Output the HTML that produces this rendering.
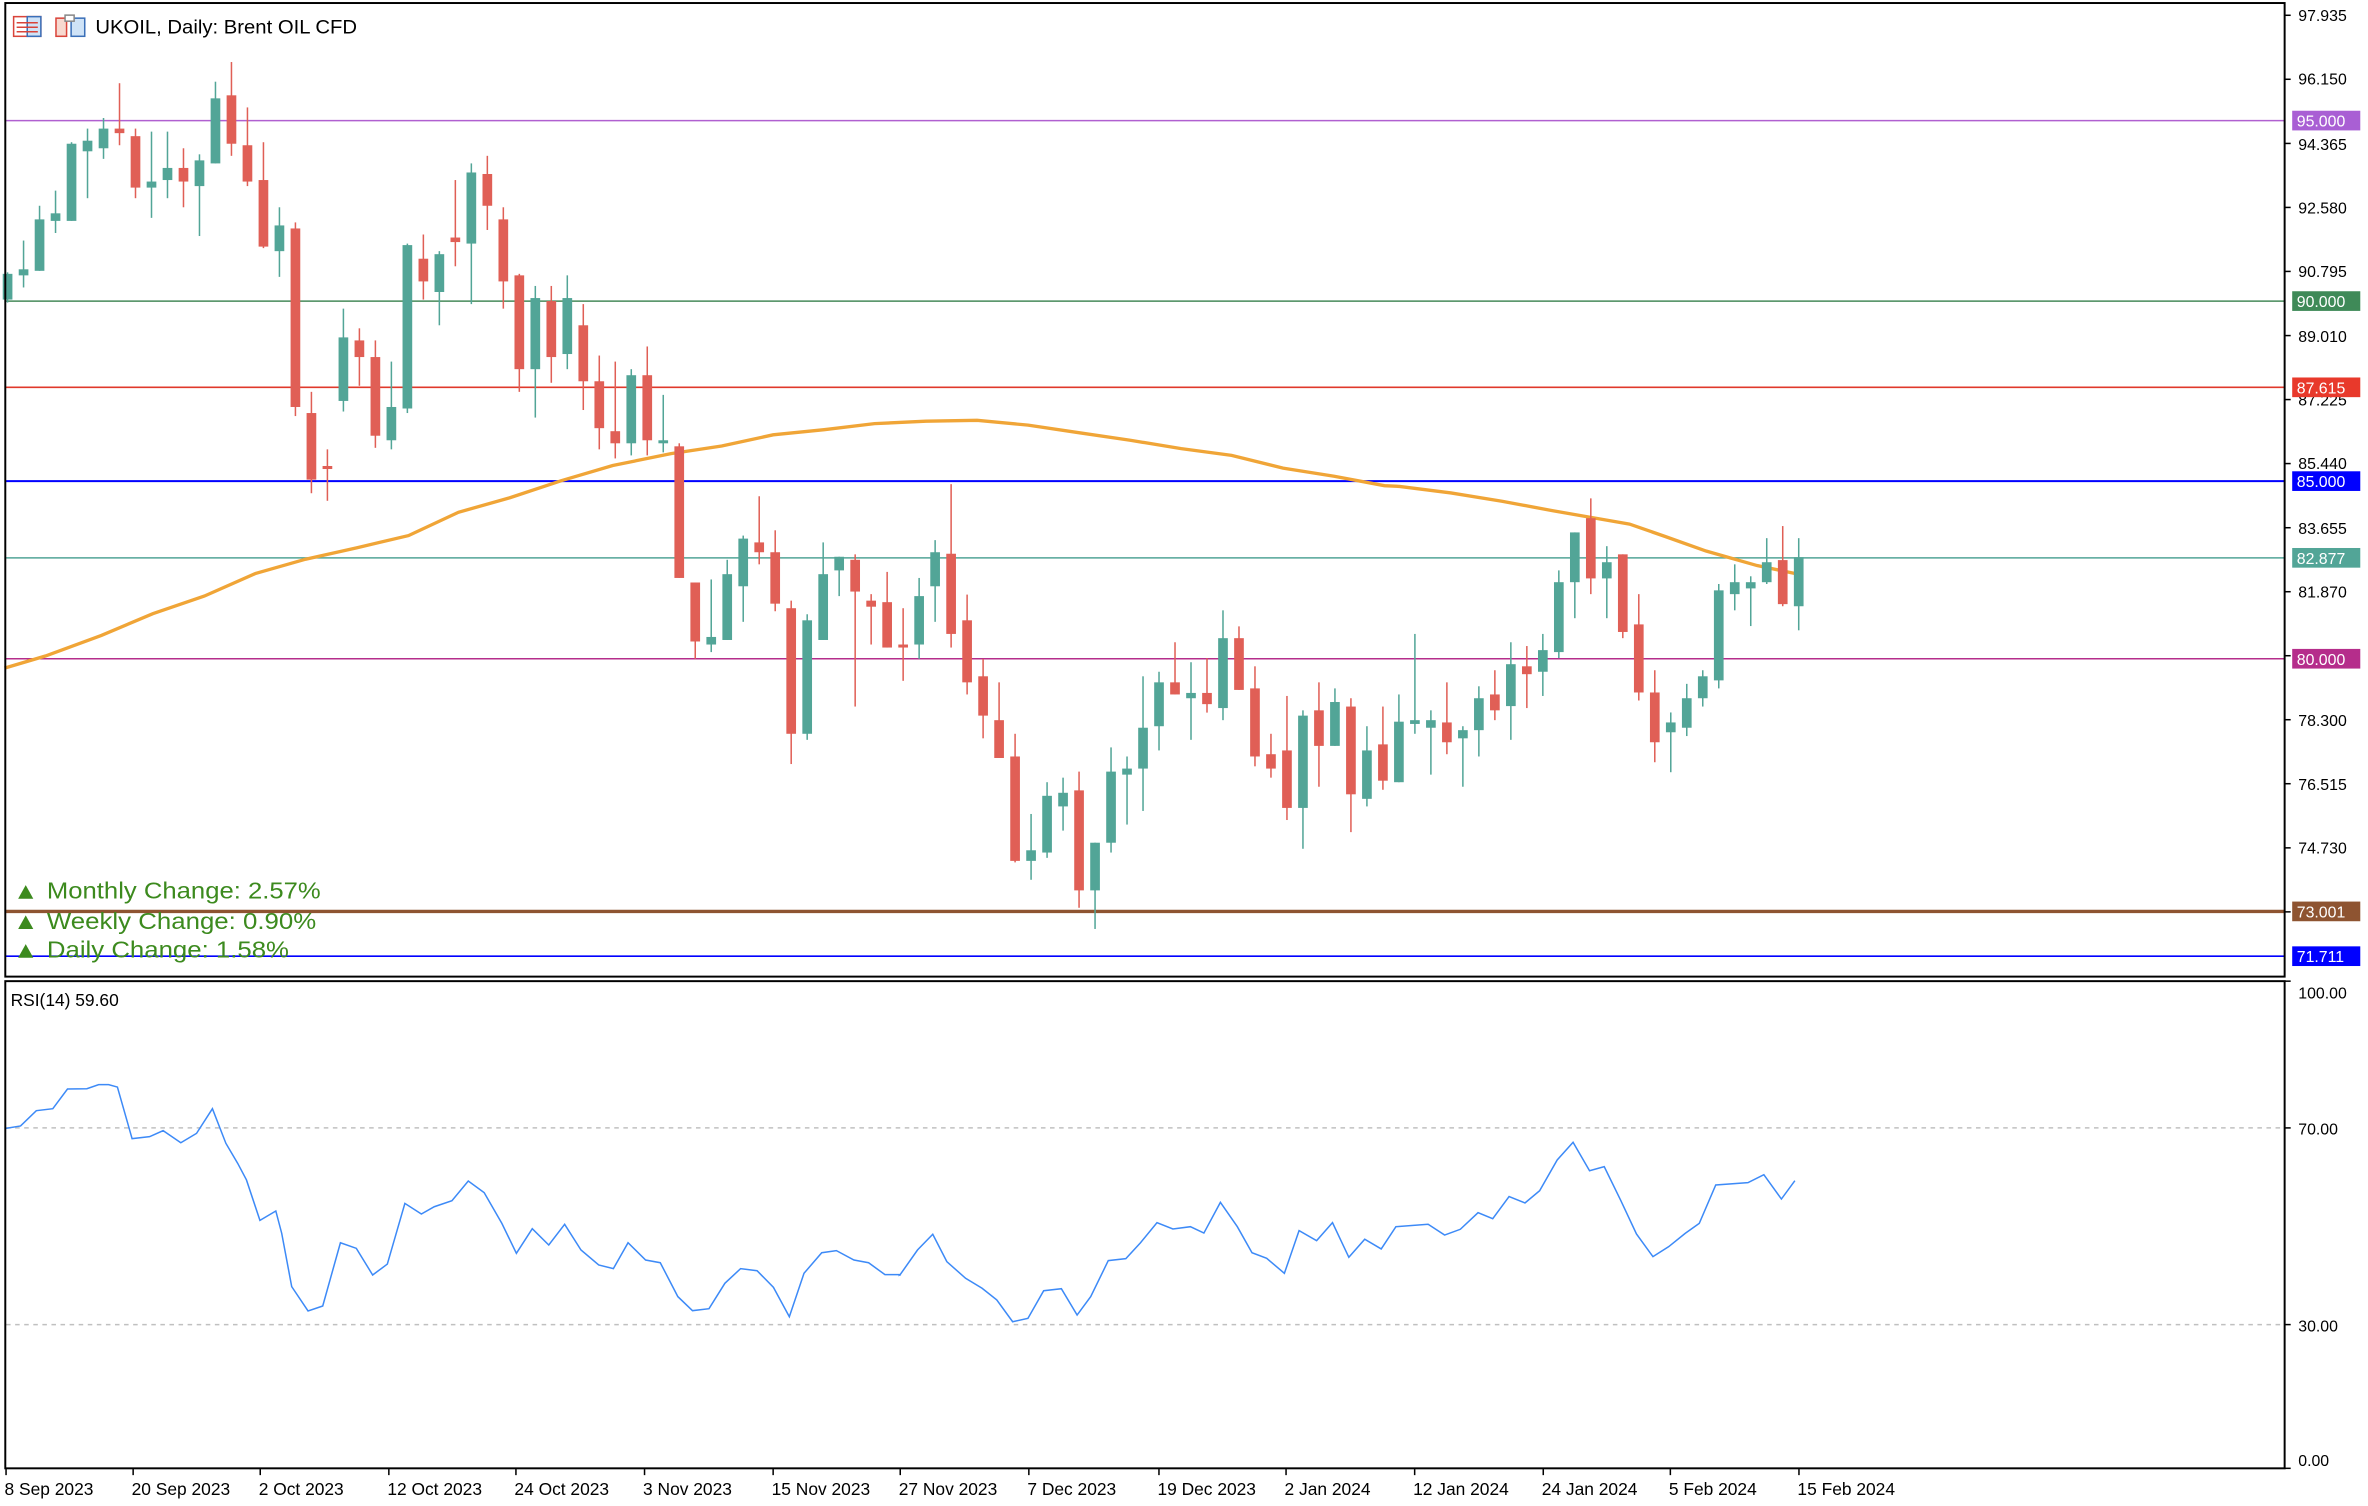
<!DOCTYPE html>
<html><head><meta charset="utf-8"><style>
html,body{margin:0;padding:0;background:#fff;}
svg{display:block;}
text{font-family:"Liberation Sans","DejaVu Sans",sans-serif;}
</style></head><body>
<svg id="s" width="2368" height="1506" viewBox="0 0 1565.1 995.4" preserveAspectRatio="none" xmlns="http://www.w3.org/2000/svg">
<rect x="0" y="0" width="1565.1" height="995.4" fill="#fff"/>
<g id="hl"></g>
<polyline id="ma" fill="none" stroke="#f0a537" stroke-width="2.2"/>
<g id="cd"></g>
<line x1="4" y1="745.5" x2="1509" y2="745.5" stroke="#c0c0c0" stroke-width="1" stroke-dasharray="3,3"/>
<line x1="4" y1="875.5" x2="1509" y2="875.5" stroke="#c0c0c0" stroke-width="1" stroke-dasharray="3,3"/>
<polyline id="rsi" fill="none" stroke="#3d8af7" stroke-width="1"/>
<rect x="3.5" y="2" width="1506.5" height="643.5" fill="none" stroke="#000" stroke-width="1.3"/>
<rect x="3.5" y="648.5" width="1506.5" height="322" fill="none" stroke="#000" stroke-width="1.3"/>
<g id="ticks" stroke="#000" stroke-width="1"></g>
<rect x="9" y="11" width="18" height="13" fill="#fff" stroke="#d9443a" stroke-width="1"/>
<rect x="18" y="11" width="9" height="13" fill="#cfe3f7" stroke="#3a6fb8" stroke-width="1"/>
<line x1="11" y1="15" x2="25" y2="15" stroke="#d9443a"/><line x1="11" y1="18" x2="25" y2="18" stroke="#d9443a"/><line x1="11" y1="21" x2="25" y2="21" stroke="#d9443a"/>
<rect x="37" y="12" width="7" height="12" fill="#f7d9d0" stroke="#d9443a" stroke-width="1"/>
<rect x="47" y="12" width="9" height="12" fill="#cfe3f7" stroke="#3a6fb8" stroke-width="1"/>
<rect x="43" y="10" width="6" height="4" fill="#fff" stroke="#888" stroke-width="1"/>
<text x="63" y="22" font-size="13" fill="#000" textLength="173" lengthAdjust="spacingAndGlyphs">UKOIL, Daily:  Brent OIL CFD</text>
<g fill="#3c8a1e" font-size="15">
<polygon points="12,594 17,585 22,594"/><text x="31" y="594" textLength="181" lengthAdjust="spacingAndGlyphs">Monthly Change: 2.57%</text>
<polygon points="12,614 17,605 22,614"/><text x="31" y="614" textLength="178" lengthAdjust="spacingAndGlyphs">Weekly Change: 0.90%</text>
<polygon points="12,633 17,624 22,633"/><text x="31" y="633" textLength="160" lengthAdjust="spacingAndGlyphs">Daily Change: 1.58%</text>
</g>
<text x="7" y="665" font-size="11.5" fill="#000">RSI(14) 59.60</text>
<g id="dl" font-size="11.5" fill="#000">
<text x="3" y="988">8 Sep 2023</text>
<text x="87" y="988">20 Sep 2023</text>
<text x="171" y="988">2 Oct 2023</text>
<text x="256" y="988">12 Oct 2023</text>
<text x="340" y="988">24 Oct 2023</text>
<text x="425" y="988">3 Nov 2023</text>
<text x="510" y="988">15 Nov 2023</text>
<text x="594" y="988">27 Nov 2023</text>
<text x="679" y="988">7 Dec 2023</text>
<text x="765" y="988">19 Dec 2023</text>
<text x="849" y="988">2 Jan 2024</text>
<text x="934" y="988">12 Jan 2024</text>
<text x="1019" y="988">24 Jan 2024</text>
<text x="1103" y="988">5 Feb 2024</text>
<text x="1188" y="988">15 Feb 2024</text>
</g>
<g font-size="10.5" fill="#000">
<text x="1519" y="14">97.935</text>
<text x="1519" y="56">96.150</text>
<text x="1519" y="99">94.365</text>
<text x="1519" y="141">92.580</text>
<text x="1519" y="183">90.795</text>
<text x="1519" y="226">89.010</text>
<text x="1519" y="268">87.225</text>
<text x="1519" y="310">85.440</text>
<text x="1519" y="353">83.655</text>
<text x="1519" y="395">81.870</text>
<text x="1519" y="480">78.300</text>
<text x="1519" y="522">76.515</text>
<text x="1519" y="564">74.730</text>
<text x="1519" y="660">100.00</text>
<text x="1519" y="750">70.00</text>
<text x="1519" y="880">30.00</text>
<text x="1519" y="969">0.00</text>
</g>
<g id="boxes" font-size="10.5" fill="#fff"></g>
</svg>
<script>
var NS="http://www.w3.org/2000/svg";
function el(p,t,a){var e=document.createElementNS(NS,t);for(var k in a)e.setAttribute(k,a[k]);p.appendChild(e);return e;}
var hl=document.getElementById('hl');
var lines=[[79.7,'#b060d0',1,'95.000','#a95fd4'],[199,'#468a5a',1,'90.000','#3f8a58'],[256,'#e0392b',1,'87.615','#e8392b'],[318,'#0000ff',1.3,'85.000','#0000ff'],[368.7,'#52a597',1,'82.877','#52a597'],[435.4,'#b52d8b',1,'80.000','#b52d8b'],[602.4,'#8e5431',2.2,'73.001','#8e5431'],[632,'#0000ff',1,'71.711','#0000ff']];
var bx=document.getElementById('boxes');
lines.forEach(function(l){el(hl,'line',{x1:4,x2:1510,y1:l[0],y2:l[0],stroke:l[1],'stroke-width':l[2]});
el(bx,'rect',{x:1515,y:l[0]-6.5,width:45,height:13,fill:l[4]});
var t=el(bx,'text',{x:1518,y:l[0]+4});t.textContent=l[3];});
var tk=document.getElementById('ticks');
[10.1,52.4,94.8,137.1,179.4,221.8,264.1,306.4,348.8,391.1,433.4,475.7,518,560.4,602.7,648.5,745.5,875.5,970.5].forEach(function(y){el(tk,'line',{x1:1510,x2:1514,y1:y,y2:y});});
[4,88,172,257,341,426,511,595,680,766,850,935,1020,1104,1189].forEach(function(x){el(tk,'line',{x1:x,x2:x,y1:971,y2:975});});
var C=[
['g',181,198,180,200],['g',178,182,159,190],['g',145,179,136,179],['g',141,146,126,154],['g',95,146,94,146],['g',93,100,85,131],['g',85,98,78,105],['r',85,88,55,96],['r',90,124,85,131],['g',120,124,87,144],
['g',111,119,87,131],['r',111,120,98,137],['g',106,123,102,156],['g',65,108,54,108],['r',63,95,41,103],['r',96,120,71,123],['r',119,163,94,164],['g',149,166,137,183],['r',151,269,147,275],['r',273,317,259,326],
['r',308,310,297,331],['g',223,265,204,272],['r',225,236,217,255],['r',236,288,225,296],['g',269,291,239,297],['g',162,270,161,273],['r',171,186,155,198],['g',168,193,166,215],['r',157,160,119,176],['g',114,161,108,201],
['r',115,136,103,152],['r',145,186,137,204],['r',182,244,181,259],['g',197,244,189,276],['r',199,236,189,253],['g',197,234,182,244],['r',215,252,201,271],['r',252,283,235,297],['r',285,293,239,303],['g',248,293,244,301],
['r',248,291,229,301],['g',291,293,261,299],['r',295,382,293,382],['r',385,424,385,435.5],['g',421,426,383,431],['g',379.5,423,370,423],['g',356,387.5,354,411],['r',358.5,365,328,373],['r',365,399,350.5,404],['r',402,485,397,505],
['g',410,485,406,489],['g',379.5,423,358.5,423],['g',368,377,368,394],['r',370,391,366.4,467],['r',397,401,392.7,426],['r',398,428,378,428],['r',426,428,402,450],['g',394,426,382,435.5],['g',365,387.5,357,411],['r',366,419,320,428],
['r',410,451,393,459],['r',447,473,435.5,488],['r',476,501,451,501],['r',500,569,485,570],['g',562,569,538,581.5],['g',526,563.5,517,567],['g',524,533,514,549],['r',522.4,588.5,510,600],['g',557,588.5,557,614],['g',510,557,494,563.5],
['g',508,512,500,545],['g',481,508,447,536],['g',451,480,444,496],['r',451,459,424.5,459],['g',458,461.5,437.7,489],['r',458,465.4,435,471],['g',421.8,468,403.4,476],['r',421.8,456,414,456],['r',455,500,440.4,506.5],['r',498.5,508,485,514],
['r',496,534,460,542],['g',473,534,469.5,561],['r',469.5,493,451,520],['g',464,493,455,493],['r',467,525,461.5,550],['g',496,528,480,533],['r',492,516,467,522],['g',477,517,459,517],['g',476,478.5,419,485],['g',476,481,469.5,512],
['r',477.5,490.6,451,498.5],['g',482.6,488,480,520],['g',461.5,482.6,453.6,500],['r',459,469.5,443,476],['g',439,466.7,424.5,489],['r',440.4,445.6,427,468],['g',429.7,444,419,460],['g',384.8,431,377,435],['g',351.9,384.8,351.9,408.6],['r',342.5,382.3,329.4,392.7],
['g',371.6,382.3,361,408.6],['r',366.4,417.7,366.4,421.8],['r',412.7,457.7,392.7,463],['r',457.7,490.6,443,503.8],['g',477.5,484,470.9,510.4],['g',461.5,481,452,486.5],['g',447,461.5,443,467],['g',390.2,449.7,386,455],['g',384.8,392.7,373,403.4],['g',384.8,388.9,380.9,413.8],
['g',371.6,384.8,355.7,386],['r',370.2,399.3,347.7,400.7],['g',368.3,400.7,355.7,416.6]];
var cd=document.getElementById('cd');
C.forEach(function(c,i){var x=5+10.57*i;var col=c[0]=='g'?'#52a597':'#e05f56';
el(cd,'rect',{x:x-0.5,y:c[3],width:1,height:Math.max(c[4]-c[3],1),fill:col});
el(cd,'rect',{x:x-3.2,y:c[1],width:6.4,height:Math.max(c[2]-c[1],1.5),fill:col});});
var ma=[[3,441.6],[30,433.6],[67,420],[101,405.6],[135,394],[169,379],[202,369.6],[236,362],[270,354],[303,338.6],[337,329],[371,317.7],[405,307.7],[443.5,299.8],[477,294.8],[511,287.4],[544.7,284],[578,280],[612,278.4],[645.8,277.8],[679.5,281],[713,286],[747,291],[780.7,296.5],[814,301],[848,309.4],[881.8,314.8],[915,321],[925,321.5],[959,325.8],[992.7,331.3],[1026.4,337.6],[1050,341.7],[1077,346.4],[1100.6,354.6],[1127.6,364.2],[1161.3,373.8],[1187.6,379.3]];
document.getElementById('ma').setAttribute('points',ma.map(function(p){return p.join(',')}).join(' '));
var r1=[[10,265],[35,258],[62,212],[90,206],[115,147],[148,146],[168,134],[185,134],[200,141],[225,296],[255,290],[278,272],[308,308],[335,280],[362,206],[385,310],[405,370],[420,420],[443,541],[470,513],[480,580],[497,740],[525,813],[550,798],[580,608],[607,625],[635,705],[660,672],[690,490],[718,522],[740,500],[770,482],[798,423],[825,458],[855,550],[880,640],[907,566],[935,615],[962,553],[990,630],[1020,675],[1045,686],[1070,608],[1100,660],[1125,668],[1155,770],[1180,812],[1208,806],[1235,730],[1262,686],[1290,692],[1318,742],[1345,830],[1370,700],[1400,638],[1425,632],[1455,660],[1480,668],[1508,704],[1535,704]];
var r2=[[0,705],[30,630],[56,583],[80,665],[112,715],[140,745],[165,780],[192,845],[218,835],[245,752],[275,746],[302,825],[325,770],[355,662],[385,656],[410,608],[438,548],[465,567],[495,560],[518,579],[546,487],[575,560],[600,638],[625,655],[655,700],[680,572],[710,602],[737,548],[765,652],[792,598],[820,627],[845,560],[900,553],[928,585],[955,568],[985,518],[1010,536],[1038,470],[1065,489],[1090,452],[1120,360],[1147,307],[1175,392],[1200,380],[1228,480],[1255,582],[1283,650],[1310,620],[1338,580],[1362,550],[1390,435],[1445,428],[1472,404],[1502,477],[1525,422]];
var pts=[];r1.forEach(function(p){pts.push((p[0]/2.578).toFixed(1)+','+(p[1]/4.539+687.4).toFixed(1));});
r2.forEach(function(p){pts.push((p[0]/2.578+594.8).toFixed(1)+','+(p[1]/4.539+687.4).toFixed(1));});
document.getElementById('rsi').setAttribute('points',pts.join(' '));
</script>
</body></html>
